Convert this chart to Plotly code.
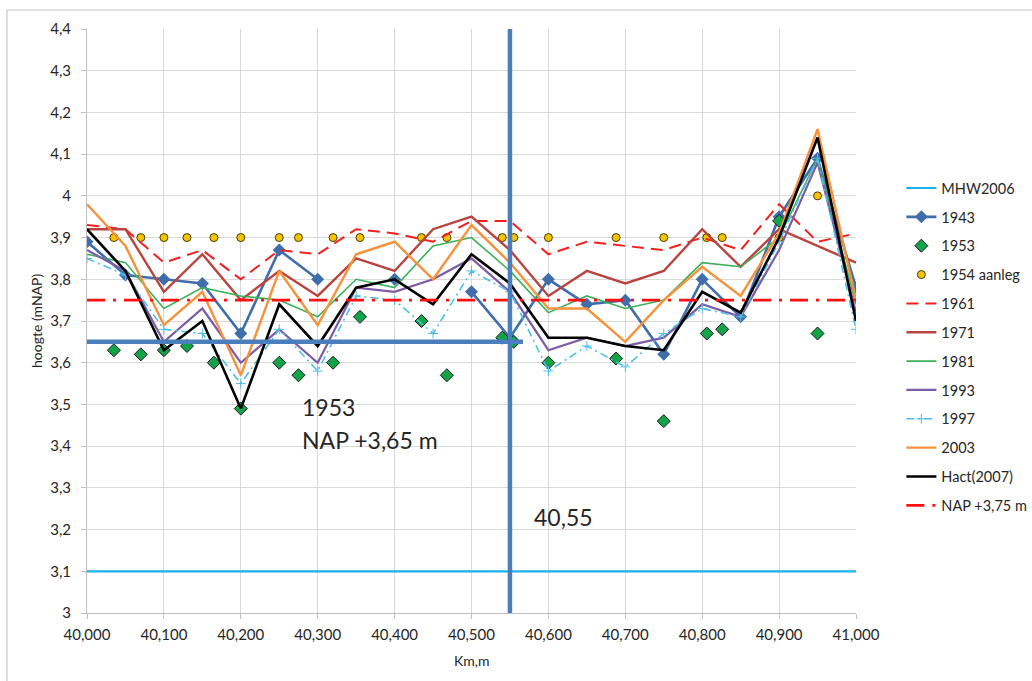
import plotly.graph_objects as go

# Dyke crest height profile, km 40,000 - 41,000
km = [40000, 40050, 40100, 40150, 40200, 40250, 40300, 40350, 40400, 40450,
      40500, 40550, 40600, 40650, 40700, 40750, 40800, 40850, 40900, 40950, 41000]

h1943 = [3.89, 3.81, 3.80, 3.79, 3.67, 3.87, 3.80, None, 3.80, None,
         3.77, 3.66, 3.80, 3.74, 3.75, 3.62, 3.80, 3.71, 3.95, 4.09, 3.78]
h1961 = [3.93, 3.92, 3.84, 3.87, 3.80, 3.87, 3.86, 3.92, 3.91, 3.89,
         3.94, 3.94, 3.86, 3.89, 3.88, 3.87, 3.90, 3.87, 3.98, 3.89, 3.91]
h1971 = [3.92, 3.92, 3.77, 3.86, 3.75, 3.82, 3.76, 3.85, 3.82, 3.92,
         3.95, 3.87, 3.76, 3.82, 3.79, 3.82, 3.92, 3.83, 3.92, 3.88, 3.84]
h1981 = [3.86, 3.84, 3.73, 3.78, 3.76, 3.75, 3.71, 3.80, 3.78, 3.88,
         3.90, 3.82, 3.72, 3.76, 3.73, 3.75, 3.84, 3.83, 3.90, 4.09, 3.74]
h1993 = [3.87, 3.82, 3.65, 3.73, 3.60, 3.68, 3.60, 3.78, 3.77, 3.80,
         3.85, 3.77, 3.63, 3.66, 3.64, 3.66, 3.74, 3.71, 3.87, 4.08, 3.72]
h1997 = [3.85, 3.81, 3.68, 3.67, 3.55, 3.68, 3.58, 3.76, 3.75, 3.67,
         3.82, 3.77, 3.58, 3.64, 3.59, 3.67, 3.73, 3.71, 3.89, 4.09, 3.68]
h2003 = [3.98, 3.88, 3.69, 3.77, 3.57, 3.82, 3.69, 3.86, 3.89, 3.80,
         3.93, 3.84, 3.73, 3.73, 3.65, 3.75, 3.83, 3.76, 3.91, 4.16, 3.75]
hact2007 = [3.92, 3.82, 3.63, 3.70, 3.49, 3.74, 3.64, 3.78, 3.80, 3.74,
            3.86, 3.79, 3.66, 3.66, 3.64, 3.63, 3.77, 3.72, 3.90, 4.14, 3.70]

# 1953 / 1954 point measurements
km_pts = [40035, 40070, 40100, 40130, 40165, 40200, 40250, 40275, 40320, 40355, 40435,
          40468, 40540, 40555, 40600, 40688, 40750, 40806, 40826, 40900, 40950]
h1953 = [3.63, 3.62, 3.63, 3.64, 3.60, 3.49, 3.60, 3.57, 3.60, 3.71, 3.70,
         3.57, 3.66, 3.65, 3.60, 3.61, 3.46, 3.67, 3.68, 3.94, 3.67]
h1954 = [3.90, 3.90, 3.90, 3.90, 3.90, 3.90, 3.90, 3.90, 3.90, 3.90, 3.90,
         3.90, 3.90, 3.90, 3.90, 3.90, 3.90, 3.90, 3.90, 3.90, 4.00]

# Reference levels
km_range = [40000, 41000]
mhw2006 = [3.10, 3.10]
nap375 = [3.75, 3.75]
crest_1953 = 3.65
km_section = 40550

x_ticks = list(range(40000, 41001, 100))
x_ticktext = ["40,000", "40,100", "40,200", "40,300", "40,400", "40,500",
              "40,600", "40,700", "40,800", "40,900", "41,000"]
y_ticks = [round(3 + i * 0.1, 1) for i in range(15)]
y_ticktext = ["3", "3,1", "3,2", "3,3", "3,4", "3,5", "3,6", "3,7", "3,8",
              "3,9", "4", "4,1", "4,2", "4,3", "4,4"]

FONT = "Lato"
TEXT = "#262626"
fig = go.Figure()


def add_line(name, x, y, color, width, dash="solid", mode="lines", marker=None):
    fig.add_trace(go.Scatter(
        x=x, y=y, name=name, mode=mode, legendgroup=name,
        line=dict(color=color, width=width, dash=dash),
        marker=marker, connectgaps=False, hoverinfo="skip"))


add_line("MHW2006", km_range, mhw2006, "#19b2ec", 2.2)
add_line("1943", km, h1943, "#3f6eab", 2.6, mode="lines+markers",
         marker=dict(symbol="diamond", size=10, color="#3f6eab"))
fig.add_trace(go.Scatter(
    x=km_pts, y=h1953, name="1953", mode="markers", legendgroup="1953",
    marker=dict(symbol="diamond", size=10, color="#13a44a",
                line=dict(color="#1a1a1a", width=1)), hoverinfo="skip"))
fig.add_trace(go.Scatter(
    x=km_pts, y=h1954, name="1954 aanleg", mode="markers", legendgroup="1954",
    marker=dict(symbol="circle", size=8, color="#f5c400",
                line=dict(color="#4a3b00", width=1)), hoverinfo="skip"))
add_line("1961", km, h1961, "#f42020", 2, dash="12px,7px")
add_line("1971", km, h1971, "#b9443f", 2.4)
add_line("1981", km, h1981, "#3db05c", 1.6)
add_line("1993", km, h1993, "#7c5ca6", 2.2)
add_line("1997", km, h1997, "#4ec0e6", 1.6, dash="8px,4px,2px,4px", mode="lines+markers",
         marker=dict(symbol="cross-thin", size=7, line=dict(color="#4ec0e6", width=1)))
add_line("2003", km, h2003, "#f7923c", 2.4)
add_line("Hact(2007)", km, hact2007, "#000000", 2.6)
add_line("NAP +3,75 m", km_range, nap375, "#ff1010", 2.8, dash="18px,8px,3px,8px")

blue = "#4a7ebc"
fig.add_shape(type="line", xref="x", yref="y", x0=km_section, x1=km_section,
              y0=3.0, y1=4.4, line=dict(color=blue, width=4.5), layer="above")
fig.add_shape(type="line", xref="x", yref="y", x0=40000, x1=40567,
              y0=crest_1953, y1=crest_1953, line=dict(color=blue, width=4.5), layer="above")
# outer chart frame
fig.add_shape(type="rect", xref="paper", yref="paper", x0=-0.104, x1=1.4,
              y0=-0.3, y1=1.0325, line=dict(color="#c8c8c8", width=1.2), layer="below")

ann_font = dict(family=FONT, size=23, color=TEXT)
fig.add_annotation(x=40277, y=3.494, text="1953", showarrow=False,
                   xanchor="left", yanchor="middle", font=ann_font)
fig.add_annotation(x=40277, y=3.415, text="NAP +3,65 m", showarrow=False,
                   xanchor="left", yanchor="middle", font=ann_font)
fig.add_annotation(x=40579, y=3.23, text="40,55", showarrow=False,
                   xanchor="left", yanchor="middle", font=ann_font)

# axis titles
fig.add_annotation(xref="paper", yref="paper", x=-0.0663, y=0.5, text="hoogte (mNAP)",
                   textangle=-90, showarrow=False, xanchor="center", yanchor="middle",
                   font=dict(family=FONT, size=14, color=TEXT))
fig.add_annotation(xref="paper", yref="paper", x=0.5, y=-0.0805, text="Km,m",
                   showarrow=False, xanchor="center", yanchor="middle",
                   font=dict(family=FONT, size=14, color=TEXT))

axis_common = dict(showgrid=True, gridcolor="#d9d9d9", gridwidth=1,
                   showline=True, linecolor="#bfbfbf", linewidth=1,
                   ticks="outside", ticklen=5, tickcolor="#bfbfbf",
                   zeroline=False, tickfont=dict(family=FONT, size=15, color=TEXT))

fig.update_layout(
    width=1032, height=681,
    margin=dict(l=87, r=176, t=29, b=68, autoexpand=False),
    paper_bgcolor="white", plot_bgcolor="white",
    font=dict(family=FONT, size=14, color=TEXT),
    showlegend=True,
    legend=dict(x=1.059, y=0.755, xanchor="left", yanchor="top",
                font=dict(family=FONT, size=14.5, color=TEXT),
                tracegroupgap=7, bgcolor="rgba(0,0,0,0)"),
    xaxis=dict(range=km_range, tickvals=x_ticks, ticktext=x_ticktext,
               ticklabelstandoff=3, **axis_common),
    yaxis=dict(range=[3.0, 4.4], tickvals=y_ticks, ticktext=y_ticktext,
               ticklabelstandoff=7, **axis_common),
)

fig.write_html("out.html")
